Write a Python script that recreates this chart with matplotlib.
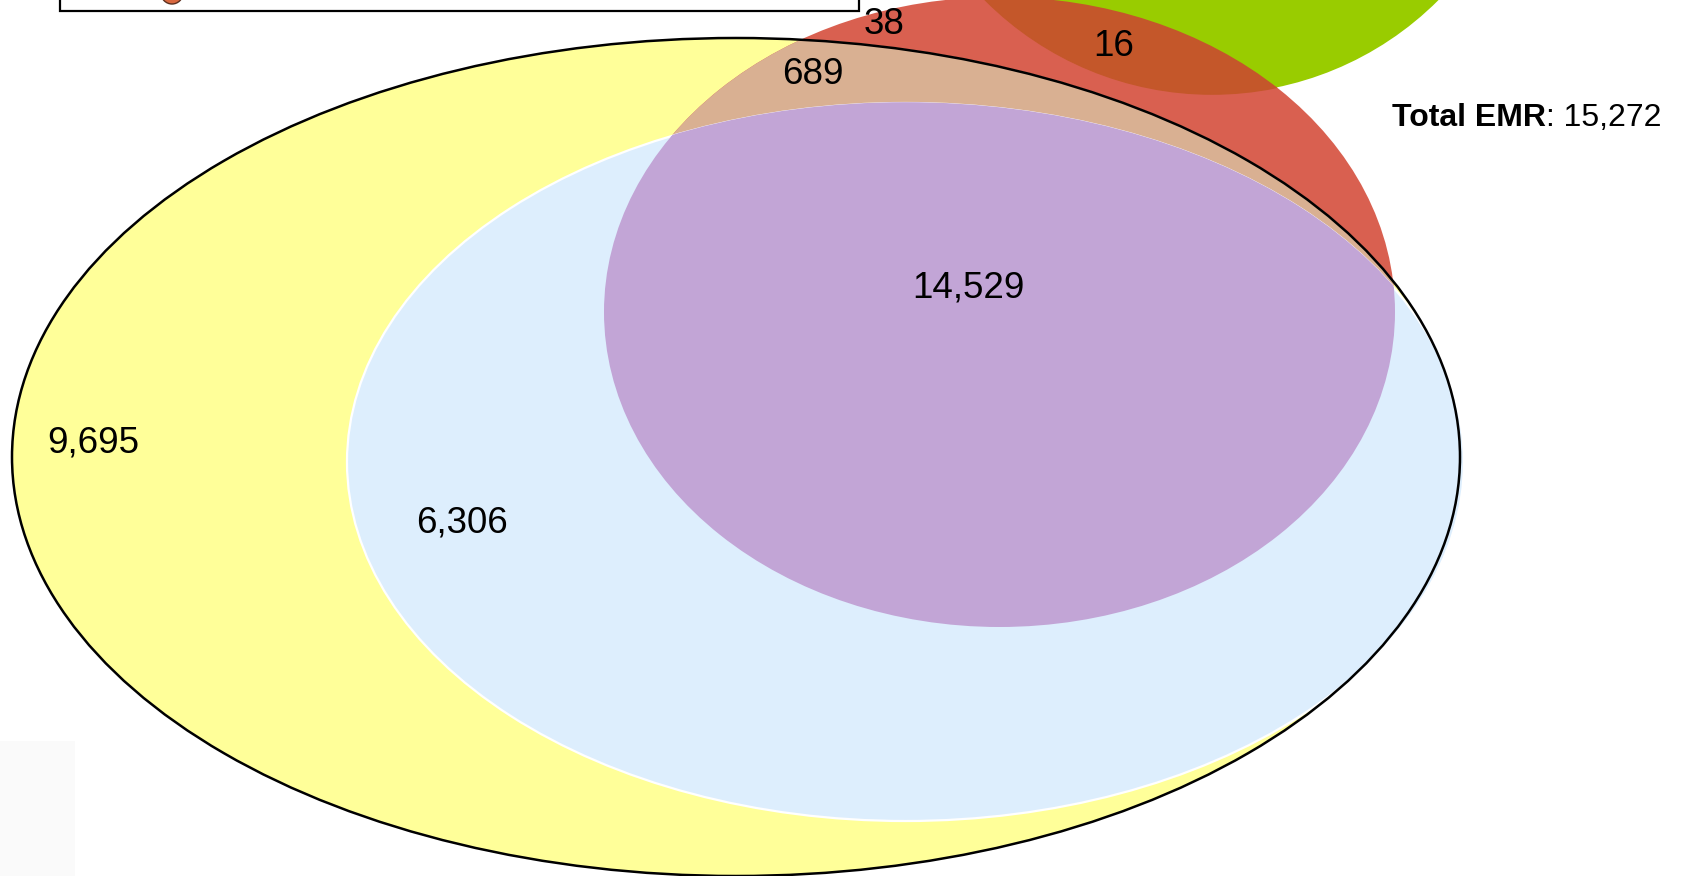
import matplotlib
matplotlib.use("Agg")
import matplotlib.pyplot as plt
from matplotlib.patches import Ellipse, Rectangle, Circle

plt.rcParams['font.family'] = ['Liberation Sans', 'DejaVu Sans']

# region counts shown in the diagram
region_labels = ["38", "16", "689", "14,529", "9,695", "6,306"]
region_values = [38, 16, 689, 14529, 9695, 6306]
total_label = "Total EMR"
total_value = 15272

# label anchor points (pixel space of the figure)
label_x = [884, 1114, 813, 968, 93, 462]
label_y = [25, 46, 74, 288, 443, 523]

# ellipse geometry: centre x, centre y, half width, half height
yellow = (736, 457, 724, 419)
blue = (905.5, 462, 558.5, 359)
red = (999.5, 312, 395.5, 315)
green = (1212, -226, 320, 320)

fig = plt.figure(figsize=(16.85, 8.76), dpi=100)
ax = fig.add_axes([0, 0, 1, 1])
ax.set_xlim(0, 1685)
ax.set_ylim(876, 0)
ax.axis('off')


def ell(shape, **kw):
    cx, cy, a, b = shape
    return Ellipse((cx, cy), 2 * a, 2 * b, **kw)


def clipped(shape, clip_shape, color, z):
    p = ell(shape, facecolor=color, edgecolor=color, lw=1.2, zorder=z)
    ax.add_patch(p)
    clip = ell(clip_shape, transform=ax.transData)
    p.set_clip_path(clip)


# base sets
ax.add_patch(ell(yellow, facecolor='#FFFF99', edgecolor='none', zorder=1))
ax.add_patch(ell(red, facecolor='#D96050', edgecolor='none', zorder=2))
clipped(yellow, red, '#D9B092', 3)
ax.add_patch(ell(blue, facecolor='#DDEEFD', edgecolor='white', lw=1.6, zorder=4))
clipped(blue, red, '#C2A5D6', 5)
ax.add_patch(ell(green, facecolor='#99CC00', edgecolor='none', zorder=6))
clipped(green, red, '#C4572A', 7)
ax.add_patch(ell(yellow, facecolor='none', edgecolor='black', lw=1.8, zorder=8))

# legend box cut off at the top
ax.add_patch(Rectangle((60, -30), 799, 41, facecolor='white', edgecolor='black',
                       lw=1.6, zorder=9, clip_on=False))
ax.add_patch(Circle((172, -7), 11, facecolor='#D9683F', edgecolor='#5a3020',
                    lw=1.0, zorder=10))

# faint grey panel bottom left
ax.add_patch(Rectangle((0, 741), 75, 140, facecolor='#FAFAFA', edgecolor='none', zorder=0))

for lab, x, y in zip(region_labels, label_x, label_y):
    ax.text(x, y, lab, fontsize=26.5, ha='center', va='center', color='black', zorder=11)

t1 = ax.text(1392, 118, total_label, fontsize=23, fontweight='bold',
             ha='left', va='center', zorder=11)
ax.annotate(": {:,}".format(total_value), xy=(1, 0), xycoords=t1,
            fontsize=23, ha='left', va='bottom', zorder=11)

fig.savefig("out.png", dpi=100)
